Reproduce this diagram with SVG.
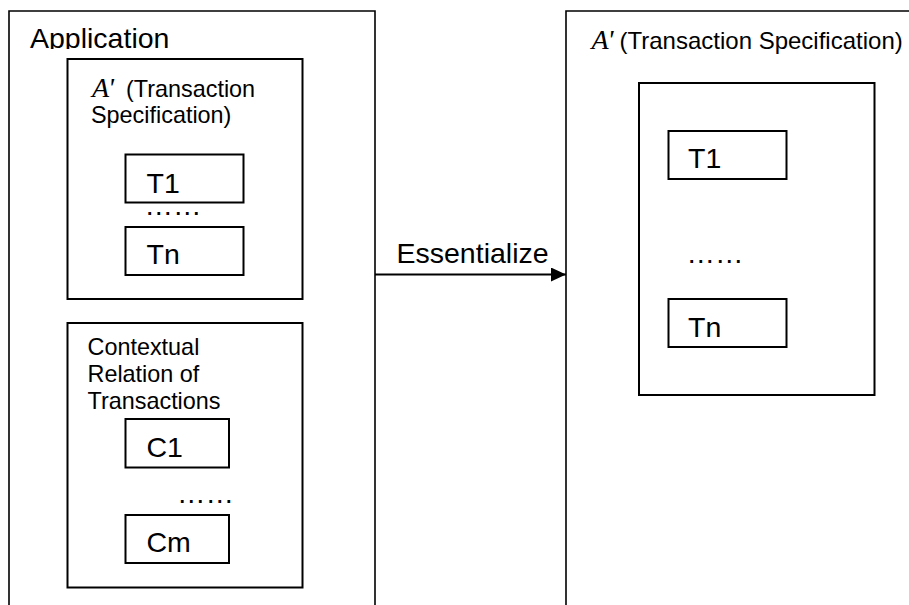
<svg xmlns="http://www.w3.org/2000/svg" width="909" height="605" viewBox="0 0 909 605">
  <defs>
    <style>
      .box { fill: none; stroke: #000; stroke-width: 2; }
      .frame { fill: none; stroke: #000; stroke-width: 1.6; }
      .sans { font-family: "Liberation Sans", Arial, sans-serif; fill: #000; }
      .big { font-size: 28.5px; }
      .mid { font-size: 23.4px; }
      .head { font-size: 24px; }
      .prime { font-family: "Liberation Serif", "Times New Roman", serif; font-style: italic; font-size: 28px; fill: #000; }
    </style>
    <clipPath id="appClip">
      <rect x="0" y="0" width="375" height="49"/>
    </clipPath>
    <marker id="arrowHead" markerWidth="15" markerHeight="14" refX="15" refY="7" orient="auto" markerUnits="userSpaceOnUse">
      <path d="M0,0 L15,7 L0,14 Z" fill="#000"/>
    </marker>
  </defs>

  <rect width="909" height="605" fill="#fff"/>

  <!-- Application frame (open at the bottom) -->
  <g id="application">
    <path class="frame" d="M9,606 V11 H375 V606"/>
    <text class="sans big" x="30" y="48.3" clip-path="url(#appClip)">Application</text>
  </g>

  <!-- Transaction specification inside the application -->
  <g id="spec-left">
    <rect class="box" x="67.5" y="59" width="235" height="240"/>
    <text class="prime" x="92" y="97">A<tspan dx="-1">'</tspan></text>
    <text class="sans mid" x="126" y="97">(Transaction</text>
    <text class="sans mid" x="91" y="122.5">Specification)</text>
  </g>
  <g id="t1-left">
    <rect class="box" x="125.5" y="154.5" width="118" height="48"/>
    <text class="sans big" x="146.5" y="193">T1</text>
  </g>
  <text id="dots-t-left" class="sans big" x="144.5" y="215">……</text>
  <g id="tn-left">
    <rect class="box" x="125.5" y="227" width="118" height="48"/>
    <text class="sans big" x="146.5" y="264">Tn</text>
  </g>

  <!-- Contextual relations -->
  <g id="context">
    <rect class="box" x="67.5" y="323" width="235" height="264.5"/>
    <text class="sans mid" x="87.5" y="355">Contextual</text>
    <text class="sans mid" x="87.5" y="382">Relation of</text>
    <text class="sans mid" x="87.5" y="409">Transactions</text>
  </g>
  <g id="c1">
    <rect class="box" x="125.5" y="419" width="103.5" height="48.5"/>
    <text class="sans big" x="146.5" y="456.5">C1</text>
  </g>
  <text id="dots-c" class="sans big" x="177" y="502.7">……</text>
  <g id="cm">
    <rect class="box" x="125.5" y="515" width="103.5" height="48"/>
    <text class="sans big" x="146.5" y="552.3">Cm</text>
  </g>

  <!-- Essentialized transaction specification -->
  <g id="spec-right">
    <path class="frame" d="M566,606 V11 H910"/>
    <text class="prime" x="591.5" y="49">A<tspan dx="-1">'</tspan></text>
    <text class="sans head" x="619.5" y="49">(Transaction Specification)</text>
  </g>
  <g id="spec-right-inner">
    <rect class="box" x="639" y="83" width="235.5" height="312"/>
  </g>
  <g id="t1-right">
    <rect class="box" x="668.5" y="131" width="118" height="48"/>
    <text class="sans big" x="688" y="168.3">T1</text>
  </g>
  <text id="dots-t-right" class="sans big" x="686.5" y="263">……</text>
  <g id="tn-right">
    <rect class="box" x="668.5" y="299" width="118" height="48"/>
    <text class="sans big" x="688" y="336.7">Tn</text>
  </g>

  <!-- Connectors -->
  <g id="connectors">
    <line x1="375" y1="274.5" x2="566" y2="274.5" stroke="#000" stroke-width="2" marker-end="url(#arrowHead)"/>
    <text class="sans big" x="396.5" y="263.3">Essentialize</text>
  </g>
</svg>
